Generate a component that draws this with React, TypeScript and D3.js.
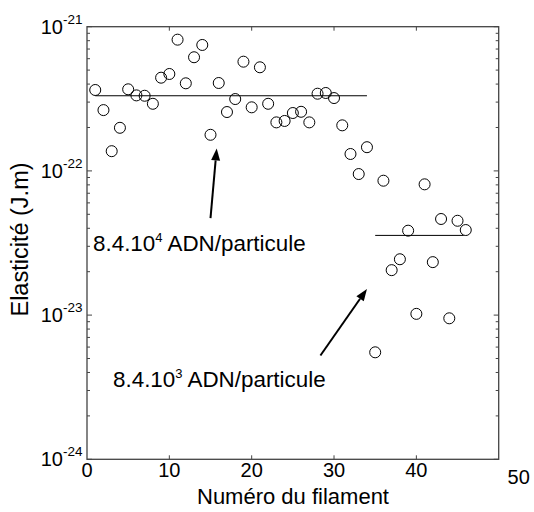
import React from "react";
import * as d3 from "d3";

const filaments = [1,2,3,4,5,6,7,8,9,10,11,12,13,14,15,16,17,18,19,20,21,22,23,24,25,26,27,28,29,30,31,32,33,34,35,36,37,38,39,40,41,42,43,44,45,46];
const elasticity = [
  3.64e-22, 2.64e-22, 1.37e-22, 1.99e-22, 3.68e-22, 3.34e-22, 3.32e-22, 2.92e-22, 4.43e-22, 4.70e-22,
  8.13e-22, 4.05e-22, 6.14e-22, 7.47e-22, 1.78e-22, 4.07e-22, 2.56e-22, 3.15e-22, 5.72e-22, 2.76e-22,
  5.23e-22, 2.92e-22, 2.17e-22, 2.22e-22, 2.52e-22, 2.57e-22, 2.17e-22, 3.43e-22, 3.47e-22, 3.20e-22,
  2.07e-22, 1.31e-22, 9.51e-23, 1.46e-22, 5.52e-24, 8.55e-23, 2.05e-23, 2.44e-23, 3.85e-23, 1.02e-23,
  8.07e-23, 2.33e-23, 4.64e-23, 9.5e-24, 4.51e-23, 3.89e-23,
];
const meanLines = [
  { x0: 1, x1: 34, y: 3.32e-22 },
  { x0: 35, x1: 45.75, y: 3.57e-23 },
];
const xTicks = [0, 10, 20, 30, 40, 50];
const yDecades = [-24, -23, -22, -21];
// arrows: tail (x, y) -> head (x, y) in data units
const arrows = [
  { x0: 15.0, y0: 4.7e-23, x1: 15.75, y1: 1.43e-22 },
  { x0: 28.35, y0: 5.25e-24, x1: 34.0, y1: 1.52e-23 },
];
const annotationExp = ["4", "3"];
const annotationText = " ADN/particule";

const M = { left: 87, right: 498.7, top: 26.7, bottom: 459.3 };

export default function App() {
  const x = d3.scaleLinear().domain([0, 50]).range([M.left, M.right]);
  const y = d3.scaleLog().domain([1e-24, 1e-21]).range([M.bottom, M.top]);
  const font = "Arial, 'Liberation Sans', Helvetica, sans-serif";
  const axisColor = "#444";

  const minorTicks: number[] = [];
  for (let d = -24; d < -21; d++) {
    for (let k = 2; k <= 9; k++) minorTicks.push(k * Math.pow(10, d));
  }

  const annPos = [
    { x: 93, y: 251 },
    { x: 113, y: 387 },
  ];

  return (
    <svg width={534} height={512} style={{ position: "absolute", left: 0, top: 0, background: "#fff" }} fontFamily={font}>
      <rect x={0} y={0} width={534} height={512} fill="#fff" />
      <rect x={M.left} y={M.top} width={M.right - M.left} height={M.bottom - M.top} fill="none" stroke={axisColor} strokeWidth={1.3} />
      {xTicks.slice(1, -1).map((t) => (
        <g key={"xt" + t}>
          <line x1={x(t)} x2={x(t)} y1={M.bottom} y2={M.bottom - 4} stroke={axisColor} />
          <line x1={x(t)} x2={x(t)} y1={M.top} y2={M.top + 4} stroke={axisColor} />
        </g>
      ))}
      {xTicks.map((t) => (
        <text key={"xl" + t} x={t === 50 ? x(t) + 20 : x(t)} y={t === 50 ? 484 : 477} textAnchor="middle" fontSize={20} fill="#000">
          {t}
        </text>
      ))}
      {yDecades.map((d) => (
        <g key={"yt" + d}>
          <line x1={M.left} x2={M.left + 5} y1={y(Math.pow(10, d))} y2={y(Math.pow(10, d))} stroke={axisColor} />
          <line x1={M.right} x2={M.right - 5} y1={y(Math.pow(10, d))} y2={y(Math.pow(10, d))} stroke={axisColor} />
          <text x={63} y={y(Math.pow(10, d)) + 7} textAnchor="end" fontSize={20} fill="#000">10</text>
          <text x={63} y={y(Math.pow(10, d)) - 3} textAnchor="start" fontSize={13.5} fill="#000">{d}</text>
        </g>
      ))}
      {minorTicks.map((v, i) => (
        <g key={"ym" + i}>
          <line x1={M.left} x2={M.left + 3} y1={y(v)} y2={y(v)} stroke={axisColor} />
          <line x1={M.right} x2={M.right - 3} y1={y(v)} y2={y(v)} stroke={axisColor} />
        </g>
      ))}
      <text x={293} y={504} textAnchor="middle" fontSize={22} fill="#000">Numéro du filament</text>
      <text transform={`translate(28,239.5) rotate(-90)`} textAnchor="middle" fontSize={23.5} fill="#000">Elasticité (J.m)</text>
      {meanLines.map((l, i) => (
        <line key={"ml" + i} x1={x(l.x0)} x2={x(l.x1)} y1={y(l.y)} y2={y(l.y)} stroke="#000" strokeWidth={1} />
      ))}
      {filaments.map((f, i) => (
        <circle key={"p" + i} cx={x(f)} cy={y(elasticity[i])} r={5.5} fill="none" stroke="#000" strokeWidth={1} />
      ))}
      {arrows.map((a, i) => {
        const x1 = x(a.x0), y1 = y(a.y0);
        const x2 = x(a.x1), y2 = y(a.y1);
        const ang = Math.atan2(y2 - y1, x2 - x1);
        const L = 12, W = 4.5;
        const bx = x2 - L * Math.cos(ang), by = y2 - L * Math.sin(ang);
        const px = -Math.sin(ang) * W, py = Math.cos(ang) * W;
        return (
          <g key={"ar" + i}>
            <line x1={x1} y1={y1} x2={bx} y2={by} stroke="#000" strokeWidth={2} />
            <polygon points={`${x2},${y2} ${bx + px},${by + py} ${bx - px},${by - py}`} fill="#000" />
          </g>
        );
      })}
      {annotationExp.map((e, i) => (
        <text key={"an" + i} x={annPos[i].x} y={annPos[i].y} fontSize={22.4} fill="#000">
          8.4.10<tspan dy={-9} fontSize={13}>{e}</tspan><tspan dy={9}>{annotationText}</tspan>
        </text>
      ))}
    </svg>
  );
}
